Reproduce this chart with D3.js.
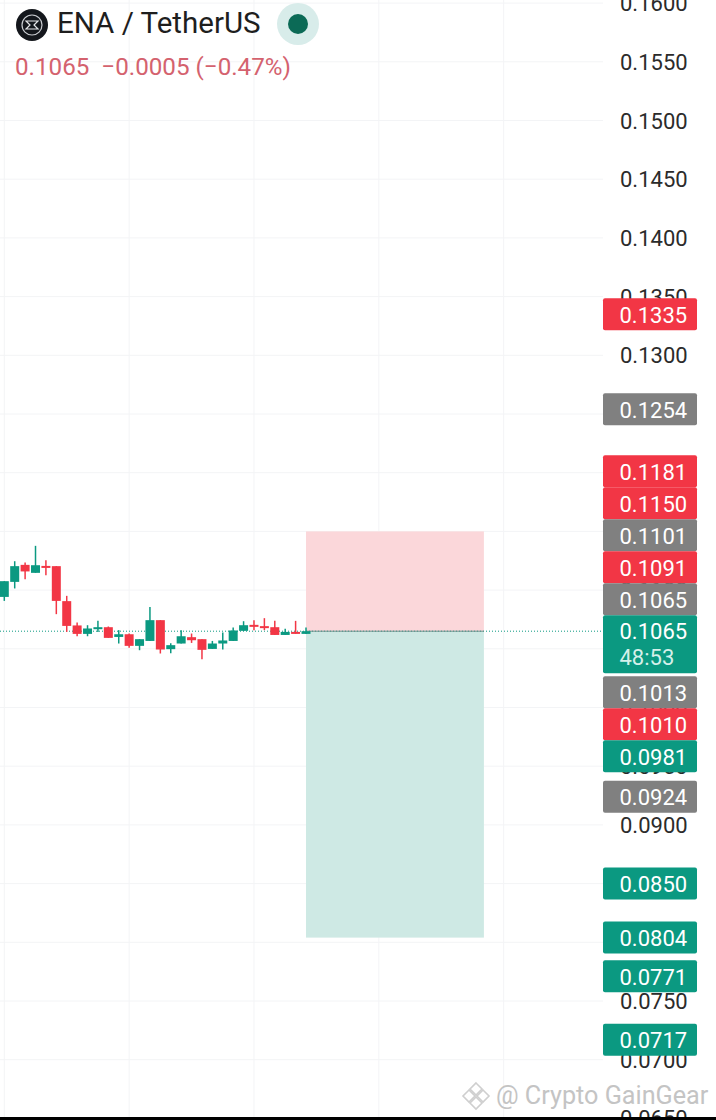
<!DOCTYPE html>
<html>
<head>
<meta charset="utf-8">
<script src="https://cdn.jsdelivr.net/npm/d3@7"></script>
<style>
html, body { margin: 0; padding: 0; background: #fff; }
svg { display: block; }
text { font-family: Roboto, sans-serif; }
</style>
</head>
<body>
<svg class="chart" width="716" height="1120"></svg>
<script>
const opens  = [.10942,.1107,.11215,.11147,.11206,.11204,.10906,.10699,.10627,.10673,.10684,.10601,.10624,.10525,.10567,.10744,.10497,.10545,.10599,.10582,.10499,.10545,.10567,.10653,.10704,.10693,.10684,.10618,.10644,.10627]
const highs  = [.11076,.11246,.11235,.11377,.11255,.11204,.10951,.10724,.10701,.10738,.1069,.10659,.1063,.10582,.10857,.10744,.10548,.10659,.1063,.10582,.10567,.10639,.10682,.10735,.10744,.10761,.10738,.1067,.10738,.10682]
const lows   = [.10908,.11014,.11093,.11147,.11127,.10795,.10644,.10607,.10607,.10644,.10593,.10545,.10508,.10488,.10567,.1046,.10463,.10545,.1055,.10411,.10499,.10494,.10567,.10653,.10659,.10659,.10618,.10618,.10627,.10627]
const closes = [.11076,.11204,.11159,.11212,.11193,.10908,.10695,.10627,.10673,.10684,.10593,.10624,.10525,.10582,.10744,.10494,.10531,.10607,.10573,.10491,.10545,.10571,.10656,.10701,.1069,.10678,.10618,.10644,.10627,.1065]

const axisTicks = d3.range(32, 12.5, -1).map(n => n * 0.005)
const gridCandles = [0, 12, 24, 36, 48]

const lastPrice = 0.1065
const stopPrice = 0.1150
const targetPrice = 0.0804
const boxStart = 29
const boxEnd = 46.1

// price pins on the axis, top to bottom
const pinValues = [0.1335, 0.1254, 0.1181, 0.1150, 0.1101, 0.1091, 0.1065, 0.1013, 0.1010, 0.0981, 0.0924, 0.0850, 0.0804, 0.0771, 0.0717]
const pinKinds  = ["red", "grey", "red", "red", "grey", "red", "grey", "grey", "red", "green", "grey", "green", "green", "green", "green"]

const titleText = "ENA / TetherUS"
const quoteText = "0.1065  \u22120.0005 (\u22120.47%)"
const countdownText = "48:53"
const watermarkText = "@ Crypto GainGear"

const RED = "#f23645"
const GREEN = "#0b9981"
const GREY = "#808080"
const kindColor = { red: RED, grey: GREY, green: GREEN }

const svg = d3.select("svg.chart")

const y = d3.scaleLinear().domain([0.065, 0.16]).range([1118.4, 3.1])
const x = d3.scaleLinear().domain([0, 29]).range([4.3, 306])
const plotRight = 603

// grid
svg.append("g").selectAll("line")
	.data(axisTicks)
	.enter()
	.append("line")
	.attr("x1", 0)
	.attr("x2", plotRight)
	.attr("y1", d => y(d))
	.attr("y2", d => y(d))
	.attr("stroke", "#f3f4f6")

svg.append("g").selectAll("line")
	.data(gridCandles)
	.enter()
	.append("line")
	.attr("x1", d => x(d))
	.attr("x2", d => x(d))
	.attr("y1", 0)
	.attr("y2", 1120)
	.attr("stroke", "#f3f4f6")

// long position box
svg.append("rect")
	.attr("x", x(boxStart))
	.attr("width", x(boxEnd) - x(boxStart))
	.attr("y", y(stopPrice))
	.attr("height", y(lastPrice) - y(stopPrice))
	.attr("fill", "#fbd7da")

svg.append("rect")
	.attr("x", x(boxStart))
	.attr("width", x(boxEnd) - x(boxStart))
	.attr("y", y(lastPrice))
	.attr("height", y(targetPrice) - y(lastPrice))
	.attr("fill", "#cee9e4")

// last price line
svg.append("line")
	.attr("x1", 0)
	.attr("x2", plotRight)
	.attr("y1", y(lastPrice))
	.attr("y2", y(lastPrice))
	.attr("stroke", GREEN)
	.attr("stroke-width", 1)
	.attr("stroke-dasharray", "1 2")

svg.append("line")
	.attr("x1", x(boxStart))
	.attr("x2", x(boxEnd))
	.attr("y1", y(lastPrice))
	.attr("y2", y(lastPrice))
	.attr("stroke", "#6f8f8a")
	.attr("stroke-width", 1)

// candles
const candles = svg.append("g").selectAll("g")
	.data(opens)
	.enter()
	.append("g")
	.attr("fill", (d, i) => closes[i] >= d ? GREEN : RED)
	.attr("stroke", (d, i) => closes[i] >= d ? GREEN : RED)

candles.append("line")
	.attr("x1", (d, i) => x(i))
	.attr("x2", (d, i) => x(i))
	.attr("y1", (d, i) => y(highs[i]))
	.attr("y2", (d, i) => y(lows[i]))
	.attr("stroke-width", 1.5)

candles.append("rect")
	.attr("stroke", "none")
	.attr("x", (d, i) => x(i) - 4.5)
	.attr("width", 9)
	.attr("y", (d, i) => y(Math.max(d, closes[i])))
	.attr("height", (d, i) => Math.max(2, Math.abs(y(d) - y(closes[i]))))

// axis labels
const axis = d3.axisRight(y)
	.tickValues(axisTicks)
	.tickSize(0)
	.tickPadding(0)
	.tickFormat(d3.format(".4f"))

svg.append("g")
	.attr("transform", "translate(620,0.5)")
	.call(axis)
	.call(g => g.select(".domain").remove())
	.call(g => g.selectAll("text")
		.style("font-family", "Roboto, sans-serif")
		.style("font-size", "22px")
		.attr("fill", "#2b2b2b"))

// pins, pushed apart from the live price pin the way the app stacks them
const pinHeight = 32
const liveIndex = pinValues.findIndex((d, i) => d === lastPrice && pinKinds[i] === "grey")
const liveTop = y(lastPrice) - 16
const liveBottom = y(lastPrice) + 42
const pinY = pinValues.map(d => y(d))

pinY[liveIndex] = liveTop - pinHeight / 2
for (let i = liveIndex - 1; i >= 0; i--) {
	pinY[i] = Math.min(pinY[i], pinY[i + 1] - pinHeight)
}
pinY[liveIndex + 1] = Math.max(pinY[liveIndex + 1], liveBottom + pinHeight / 2)
for (let i = liveIndex + 2; i < pinY.length; i++) {
	pinY[i] = Math.max(pinY[i], pinY[i - 1] + pinHeight)
}

const pins = svg.append("g").selectAll("g")
	.data(pinValues)
	.enter()
	.append("g")
	.attr("transform", (d, i) => "translate(603," + pinY[i] + ")")

pins.append("rect")
	.attr("x", 0)
	.attr("y", -pinHeight / 2)
	.attr("width", 94)
	.attr("height", pinHeight)
	.attr("rx", 2)
	.attr("fill", (d, i) => kindColor[pinKinds[i]])

pins.append("text")
	.attr("x", 16.5)
	.attr("y", 0.7)
	.attr("dy", "0.35em")
	.attr("font-size", 22)
	.attr("fill", "#fff")
	.text(d => d.toFixed(4))

// live price pin with countdown
const live = svg.append("g").attr("transform", "translate(603," + liveTop + ")")

live.append("rect")
	.attr("width", 94)
	.attr("height", liveBottom - liveTop)
	.attr("rx", 2)
	.attr("fill", GREEN)

live.append("text")
	.attr("x", 16.5)
	.attr("y", 24)
	.attr("font-size", 22)
	.attr("fill", "#fff")
	.text(lastPrice.toFixed(4))

live.append("text")
	.attr("x", 16.5)
	.attr("y", 50)
	.attr("font-size", 22)
	.attr("fill", "#d5f0ea")
	.text(countdownText)

// header
const logo = svg.append("g").attr("transform", "translate(32,25)")
logo.append("circle").attr("r", 16).attr("fill", "#14171c")
logo.append("circle").attr("r", 10).attr("fill", "none").attr("stroke", "#c9ccd0").attr("stroke-width", 1.2)
logo.append("path")
	.attr("d", "M-6,-4 H6 L2,0 L6,4 H-6 L-2,0 Z")
	.attr("fill", "none")
	.attr("stroke", "#e4e6e8")
	.attr("stroke-width", 1.2)

svg.append("text")
	.attr("x", 57)
	.attr("y", 33)
	.attr("font-size", 29.5)
	.attr("fill", "#1e1e1e")
	.text(titleText)

svg.append("circle").attr("cx", 298).attr("cy", 24).attr("r", 21).attr("fill", "#d8ecea")
svg.append("circle").attr("cx", 298).attr("cy", 24).attr("r", 10).attr("fill", "#0b6a56")

svg.append("text")
	.attr("x", 15)
	.attr("y", 75)
	.attr("font-size", 24.2)
	.attr("fill", "#d4626e")
	.style("white-space", "pre")
	.text(quoteText)

// watermark
const mark = svg.append("g")
	.attr("transform", "translate(476,1096)")
	.attr("fill", "none")
	.attr("stroke", "#cfcfcf")
	.attr("stroke-width", 1.6)

mark.append("path").attr("d", "M0,-13 L6,-7 L0,-1 L-6,-7 Z")
mark.append("path").attr("d", "M-7,-6 L-13,0 L-7,6 L-1,0 Z")
mark.append("path").attr("d", "M7,-6 L13,0 L7,6 L1,0 Z")
mark.append("path").attr("d", "M0,1 L6,7 L0,13 L-6,7 Z")

svg.append("text")
	.attr("x", 496)
	.attr("y", 1104)
	.attr("font-size", 25.2)
	.attr("fill", "#c4c4c4")
	.text(watermarkText)

// black strip at the bottom of the screenshot
svg.append("rect")
	.attr("x", 0)
	.attr("y", 1117)
	.attr("width", 716)
	.attr("height", 3)
	.attr("fill", "#000")
</script>
</body>
</html>
